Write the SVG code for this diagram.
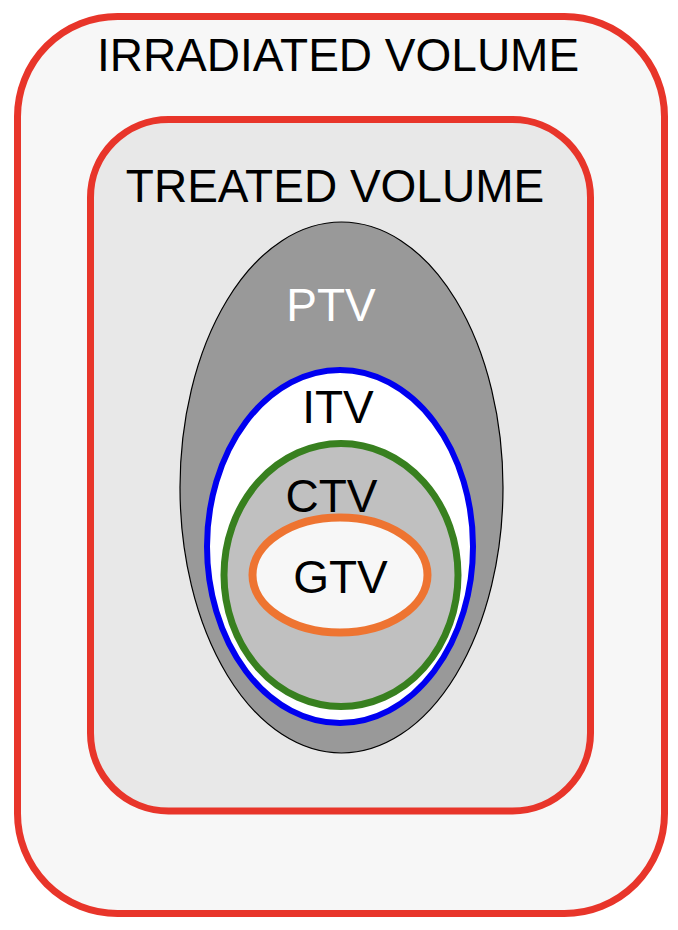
<svg xmlns="http://www.w3.org/2000/svg" width="678" height="930" viewBox="0 0 678 930">
<style>
.lbl{font-family:"Liberation Sans",Arial,sans-serif;font-size:46px;text-anchor:middle;fill:#000}
.red{stroke:#e8352a;stroke-width:7}
</style>
<rect width="678" height="930" fill="#ffffff"/>
<g id="irradiated">
<rect class="red" x="17.5" y="16.5" width="647" height="897" rx="100" ry="100" fill="#f7f7f7"/>
<text class="lbl" x="338" y="71">IRRADIATED VOLUME</text>
</g>
<g id="treated">
<rect class="red" x="90.5" y="119.5" width="500" height="691.5" rx="78" ry="78" fill="#e8e8e8"/>
<text class="lbl" x="335" y="202">TREATED VOLUME</text>
</g>
<g id="ptv">
<ellipse cx="341.5" cy="487.5" rx="161.5" ry="265.5" fill="#999999" stroke="#000" stroke-width="1.2"/>
<text class="lbl" x="331" y="321" style="fill:#ffffff">PTV</text>
</g>
<g id="itv">
<ellipse cx="340" cy="546.5" rx="133" ry="176.5" fill="#ffffff" stroke="#0000f0" stroke-width="6"/>
<text class="lbl" x="338" y="423">ITV</text>
</g>
<g id="ctv">
<ellipse cx="341" cy="575" rx="117" ry="131.5" fill="#c0c0c0" stroke="#38801f" stroke-width="7"/>
<text class="lbl" x="331.5" y="512">CTV</text>
</g>
<g id="gtv">
<ellipse cx="340" cy="575" rx="87.5" ry="57.5" fill="#f7f7f7" stroke="#ee7431" stroke-width="8"/>
<text class="lbl" x="340.5" y="593">GTV</text>
</g>
<g id="connectors"/>
</svg>
